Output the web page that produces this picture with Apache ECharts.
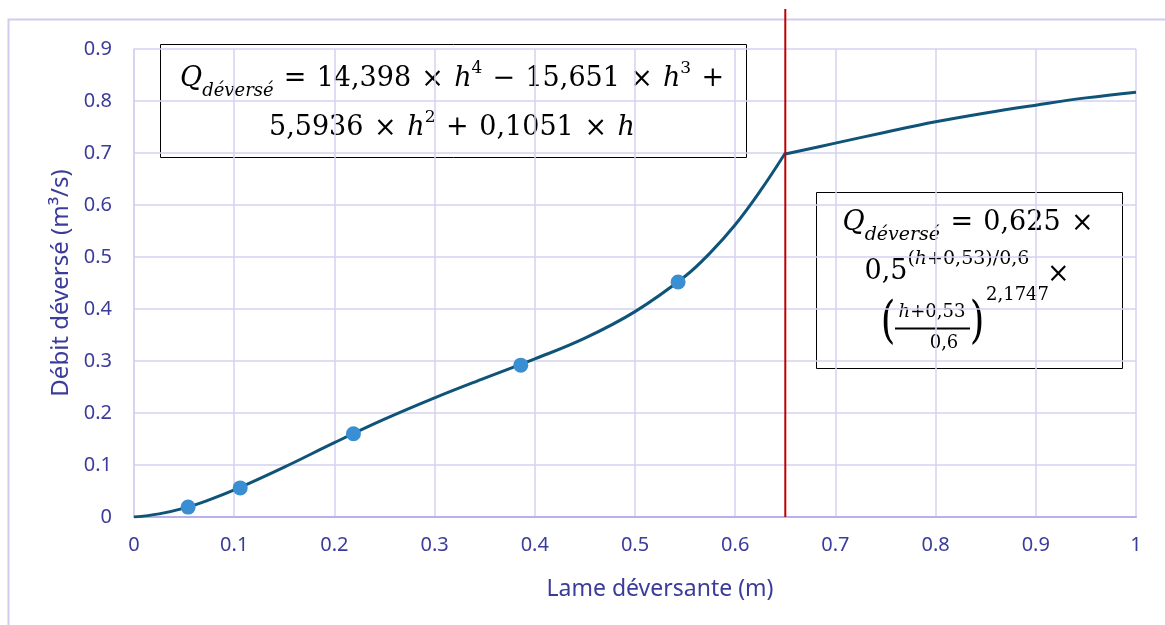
<!DOCTYPE html>
<html><head><meta charset="utf-8">
<script src="https://cdn.jsdelivr.net/npm/echarts@6/dist/echarts.min.js"></script>
<style>html,body{margin:0;padding:0;background:#fff}#c{width:1165px;height:625px}</style>
</head><body><div id="c"></div>
<script>
// Data
const xTicks = [0,0.1,0.2,0.3,0.4,0.5,0.6,0.7,0.8,0.9,1];
const yTicks = [0,0.1,0.2,0.3,0.4,0.5,0.6,0.7,0.8,0.9];
const hLow  = [0,0.025,0.05,0.075,0.1,0.15,0.2,0.25,0.3,0.35,0.4,0.45,0.5,0.55,0.575,0.6,0.625,0.65];
const qLow  = [0,0.006,0.017,0.033,0.052,0.096,0.143,0.188,0.229,0.267,0.304,0.344,0.395,0.463,0.508,0.562,0.627,0.700];
const hHigh = [0.65,0.7,0.75,0.8,0.85,0.9,0.95,1];
const qHigh = [0.698,0.719,0.740,0.760,0.777,0.792,0.806,0.817];
const hPts  = [0.054,0.106,0.219,0.386,0.543];
const qPts  = [0.019,0.056,0.160,0.292,0.452];
const hLimit = 0.65;
const limitTop = 0.977;

const txt = '#3b3b9c', grid = '#d5d1f1', axisC = '#b8b2ea';
const curveC = '#0f5478', ptC = '#3a8fd2', redC = '#c00000';
const zip = (a,b)=>a.map((v,i)=>[v,b[i]]);

const SERIF = "'DejaVu Serif', serif";
const mctx = document.createElement('canvas').getContext('2d');
const fontOf = (size, italic) => (italic?'italic ':'')+size+'px '+SERIF;
function measure(t, size, italic){ mctx.font = fontOf(size, italic); return mctx.measureText(t).width; }
function T(text, x, y, size, italic, align){
  return {type:'text', x, y, style:{text, font:fontOf(size,italic), fill:'#000',
    align:align||'left', verticalAlign:'middle'}};
}
// lay out one formula line: tokens [text, size, italic, dy] or 'G' for a stretchable gap
function line(tokens, cx, cy, width){
  let S = 0, gaps = 0;
  tokens.forEach(k => { if (k === 'G') gaps++; else S += measure(k[0], k[1], k[2]); });
  const g = gaps ? Math.max(0, (width - S) / gaps) : 0;
  let x = cx - (S + g*gaps)/2;
  const out = [];
  tokens.forEach(k => {
    if (k === 'G') { x += g; return; }
    out.push(T(k[0], x, cy + (k[3]||0), k[1], k[2]));
    x += measure(k[0], k[1], k[2]);
  });
  return out;
}
const M = 27, SUP = 17, SUB = 18;
const box1 = [
  {type:'rect',shape:{x:160.5,y:44.5,width:586,height:113},style:{fill:'#fff',stroke:'#000',lineWidth:1}},
  ...line([['Q',M,true],['déversé',SUB,true,12],'G',['=',M],'G',['14,398',M],'G',['×',M,false,1],'G',
           ['h',M,true],['4',SUP,false,-10],'G',['−',M],'G',['15,651',M],'G',['×',M,false,1],'G',
           ['h',M,true],['3',SUP,false,-10],'G',['+',M]], 452, 79, 544),
  ...line([['5,5936',M],'G',['×',M,false,1],'G',['h',M,true],['2',SUP,false,-10],'G',['+',M],'G',
           ['0,1051',M],'G',['×',M,false,1],'G',['h',M,true]], 452, 128, 366)
];
const box2 = [
  {type:'rect',shape:{x:816.5,y:192.5,width:306,height:176},style:{fill:'#fff',stroke:'#000',lineWidth:1}},
  ...line([['Q',27,true],['déversé',19,true,12],'G',['=',27],'G',['0,625',27],'G',['×',27,false,1]], 968, 223, 251),
  ...line([['0,5',27],['(',19,false,-13],['h',19,true,-13],['+0,53)/0,6',19,false,-13],'G',['×',27,false,3]], 967, 272, 205),
  {type:'text',x:888,y:324,scaleX:0.75,style:{text:'(',font:'50px '+SERIF,fill:'#000',align:'center',verticalAlign:'middle'}},
  ...line([['h',18,true],['+0,53',18]], 932, 312, 0),
  {type:'line',shape:{x1:895,y1:328.5,x2:970,y2:328.5},style:{stroke:'#000',lineWidth:2}},
  T('0,6',944,343,18,false,'center'),
  {type:'text',x:977,y:324,scaleX:0.75,style:{text:')',font:'50px '+SERIF,fill:'#000',align:'center',verticalAlign:'middle'}},
  T('2,1747',986,295,18)
];

const chart = echarts.init(document.getElementById('c'), null, {renderer:'canvas'});
chart.setOption({
  animation:false,
  backgroundColor:'#fff',
  grid:{left:134,right:29,top:49,bottom:108,containLabel:false},
  xAxis:{type:'value',min:0,max:1,interval:0.1,
    name:'Lame déversante (m)',nameLocation:'middle',nameGap:61,
    nameTextStyle:{color:txt,fontSize:23,fontFamily:'Noto Sans',padding:[0,0,0,50]},
    axisLine:{show:true,lineStyle:{color:axisC,width:2}},axisTick:{show:false},
    axisLabel:{color:txt,fontSize:20,fontFamily:'Noto Sans',margin:18,
      formatter:v=>String(xTicks.find(t=>Math.abs(t-v)<1e-9) ?? v)},
    splitLine:{show:true,lineStyle:{color:grid,width:1.5}}},
  yAxis:{type:'value',min:0,max:0.9,interval:0.1,
    name:'Débit déversé (m³/s)',nameLocation:'middle',nameGap:59,
    nameTextStyle:{color:txt,fontSize:24,fontFamily:'Noto Sans'},
    axisLine:{show:true,lineStyle:{color:grid,width:1.5}},axisTick:{show:false},
    axisLabel:{color:txt,fontSize:20,fontFamily:'Noto Sans',margin:22,
      formatter:v=>String(yTicks.find(t=>Math.abs(t-v)<1e-9) ?? v)},
    splitLine:{show:true,lineStyle:{color:grid,width:1.5}}},
  series:[
    {type:'line',data:zip(hLow,qLow),smooth:0.4,showSymbol:false,lineStyle:{color:curveC,width:3},z:3},
    {type:'line',data:zip(hHigh,qHigh),smooth:0.4,showSymbol:false,lineStyle:{color:curveC,width:3},z:3},
    {type:'line',data:[[hLimit,0],[hLimit,limitTop]],clip:false,showSymbol:false,lineStyle:{color:redC,width:2},z:4},
    {type:'scatter',data:zip(hPts,qPts),symbolSize:15,itemStyle:{color:ptC,opacity:1},z:5}
  ],
  graphic:[
    {type:'rect',shape:{x:8.5,y:19.5,width:1300,height:800},style:{fill:null,stroke:'#d0ccf0',lineWidth:2},z:-10,silent:true},
    {type:'group',z:100,children:box1},
    {type:'group',z:100,children:box2}
  ]
});
</script></body></html>
